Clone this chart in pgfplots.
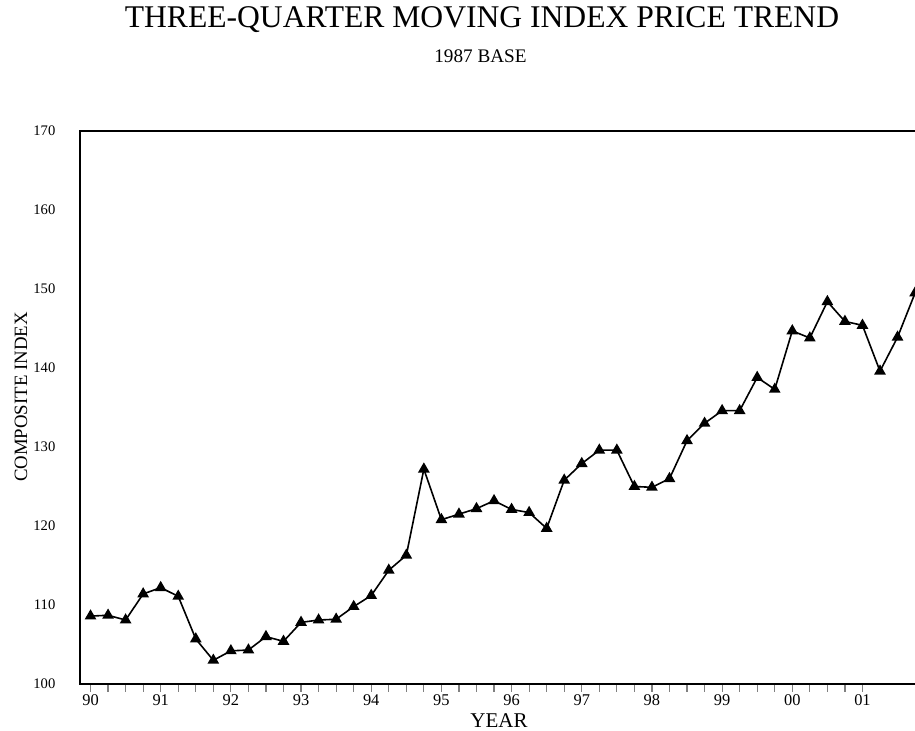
\documentclass[border=0pt]{standalone}
\usepackage{pgfplots}
\pgfplotsset{compat=1.18}
\usepackage{fontspec}
\setmainfont{Liberation Serif}
\begin{document}
\begin{tikzpicture}
\begin{axis}[
  at={(0pt,0pt)}, anchor=south west,
  scale only axis, width=420pt, height=276.5pt,
  xmin=89.85, xmax=101.82, ymin=100, ymax=170,
  xtick={90,91,92,93,94,95,96,97,98,99,100,101},
  xticklabels={90,91,92,93,94,95,96,97,98,99,00,01},
  minor x tick num=3,
  tick align=outside, xtick pos=left,
  major tick length=3.8pt, minor tick length=3.8pt,
  ytick={100,110,120,130,140,150,160,170},
  ytick style={draw=none},
  /pgf/number format/assume math mode=true,
  yticklabel style={font=\fontsize{7.3}{8}\selectfont, xshift=-5pt},
  xticklabel style={font=\fontsize{8.2}{9}\selectfont, yshift=2pt},
  axis line style={line width=0.75pt},
  x tick style={line width=0.6pt},
]
\addplot[black, line width=0.8pt, mark=triangle*, mark size=2.6pt, mark options={solid}] table {
x y
90.00 108.6
90.25 108.7
90.50 108.1
90.75 111.4
91.00 112.2
91.25 111.1
91.50 105.7
91.75 103.0
92.00 104.2
92.25 104.3
92.50 106.0
92.75 105.4
93.00 107.8
93.25 108.1
93.50 108.2
93.75 109.8
94.00 111.2
94.25 114.4
94.50 116.3
94.75 127.2
95.00 120.8
95.25 121.5
95.50 122.2
95.75 123.2
96.00 122.1
96.25 121.7
96.50 119.7
96.75 125.8
97.00 127.9
97.25 129.6
97.50 129.6
97.75 125.0
98.00 124.9
98.25 126.0
98.50 130.8
98.75 133.0
99.00 134.6
99.25 134.6
99.50 138.8
99.75 137.3
100.00 144.7
100.25 143.8
100.50 148.4
100.75 145.9
101.00 145.4
101.25 139.6
101.50 143.9
101.75 149.5
};
\end{axis}
\node[font=\fontsize{15.8}{18}\selectfont, anchor=base] at (201pt,328pt) {THREE-QUARTER MOVING INDEX PRICE TREND};
\node[font=\fontsize{9.6}{11}\selectfont, anchor=base] at (200.25pt,310.5pt) {1987 BASE};
\node[font=\fontsize{10.5}{12}\selectfont, anchor=base] at (209.5pt,-21.5pt) {YEAR};
\node[font=\fontsize{9.4}{11}\selectfont, rotate=90] at (-29.5pt,143.5pt) {COMPOSITE INDEX};
\pgfresetboundingbox
\useasboundingbox (-40pt,-23pt) rectangle (417.5pt,342pt);
\end{tikzpicture}
\end{document}
